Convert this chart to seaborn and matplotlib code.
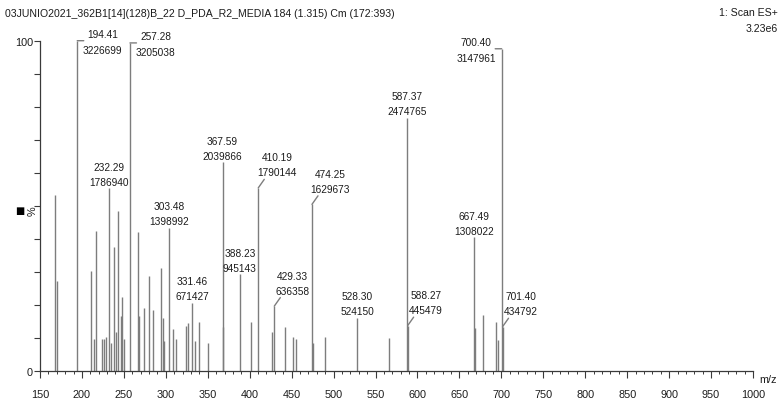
import matplotlib
matplotlib.use("Agg")
import matplotlib.pyplot as plt
from matplotlib import font_manager
from matplotlib.ticker import MultipleLocator, FixedLocator
import numpy as np
import pandas as pd
import seaborn as sns

# ---- spectrum data -------------------------------------------------------
title = "03JUNIO2021_362B1[14](128)B_22 D_PDA_R2_MEDIA 184 (1.315) Cm (172:393)"
scan_text = "1: Scan ES+"
base_peak_text = "3.23e6"

# annotated peaks: m/z and absolute intensity
label_mz = [194.41, 257.28, 700.40, 587.37, 367.59, 410.19, 232.29, 474.25,
            303.48, 667.49, 388.23, 331.46, 429.33, 528.30, 588.27, 701.40]
label_int = [3226699, 3205038, 3147961, 2474765, 2039866, 1790144, 1786940,
             1629673, 1398992, 1308022, 945143, 671427, 636358, 524150,
             445479, 434792]

# remaining (unannotated) peaks: m/z and relative intensity (%)
minor_mz = [167.9, 169.9, 211.1, 214.2, 217.0, 224.2, 226.1, 228.5, 234.4,
            238.8, 240.3, 242.4, 246.8, 248.3, 250.3, 267.0, 268.5, 273.6,
            280.1, 284.3, 294.7, 296.3, 297.5, 309.0, 312.2, 324.1, 326.5,
            334.8, 339.9, 350.3, 368.6, 401.8, 426.4, 442.2, 452.1, 455.0,
            475.9, 489.5, 565.6, 668.5, 678.2, 693.6, 696.0]
minor_pct = [53.4, 27.4, 30.4, 9.7, 42.5, 9.7, 9.9, 10.5, 8.7,
             37.5, 12.0, 48.6, 16.8, 22.6, 9.9, 42.2, 16.6, 19.0,
             28.9, 18.6, 31.3, 16.1, 9.3, 12.9, 9.7, 13.7, 14.6,
             9.2, 14.9, 8.7, 13.5, 15.0, 11.9, 13.5, 10.4, 9.7,
             8.6, 10.4, 10.2, 13.2, 17.1, 14.9, 9.5]

x_ticks = list(range(150, 1001, 50))
y_tick_labels = {0: "0", 100: "100"}

# how each annotation is attached to its peak
label_layout = ["bracket_r", "bracket_r", "bracket_l", "center", "center",
                "leader", "center", "leader", "center", "center", "center",
                "center", "leader", "center", "leader", "leader"]

# ---- build table -----------------------------------------------------------
max_int = max(label_int)
labeled = pd.DataFrame({"mz": label_mz, "intensity": label_int})
labeled["pct"] = labeled["intensity"] / max_int * 100
minor = pd.DataFrame({"mz": minor_mz, "pct": minor_pct})
peaks = pd.concat([minor[["mz", "pct"]], labeled[["mz", "pct"]]],
                  ignore_index=True).sort_values("mz")

# ---- style -----------------------------------------------------------------
sns.set_theme(style="ticks")
installed = {f.name for f in font_manager.fontManager.ttflist}
if "Liberation Sans Narrow" in installed:
    fam, k = "Liberation Sans Narrow", 1.0
else:
    fam, k = "Liberation Sans", 0.85
plt.rcParams["font.family"] = [fam, "DejaVu Sans"]

TXT = "#1c1c1c"
BAR = "#7d7d7d"
AX = "#3a3a3a"
LBL = 8.6 * k
TICK = 9.2 * k
HEAD = 8.85 * k

W, H = 784, 406
fig = plt.figure(figsize=(W / 100, H / 100), dpi=100)
x0, x1 = 40, 753
y_top, y_bot = 41.7, 372.3
ax = fig.add_axes([x0 / W, (H - y_bot) / H, (x1 - x0) / W, (y_bot - y_top) / H])

ax.vlines(peaks["mz"], 0, peaks["pct"], colors=BAR, linewidth=1.0)

ax.set_xlim(150, 1000)
ax.set_ylim(0, 100)
sns.despine(ax=ax)
for s in ("left", "bottom"):
    ax.spines[s].set_color(AX)
    ax.spines[s].set_linewidth(0.9)

ax.xaxis.set_major_locator(FixedLocator(x_ticks))
ax.xaxis.set_minor_locator(MultipleLocator(10))
ax.set_xticklabels([str(t) for t in x_ticks])
yt = np.arange(0, 101, 10)
ax.set_yticks(yt)
ax.set_yticklabels([y_tick_labels.get(int(v), "") for v in yt])
ax.tick_params(axis="x", which="major", direction="out", length=5, width=0.8,
               color=AX, labelsize=TICK, labelcolor=TXT, pad=7.5)
ax.tick_params(axis="x", which="minor", direction="out", length=2.5, width=0.7,
               color=AX)
ax.tick_params(axis="y", which="major", direction="out", length=4, width=0.8,
               color=AX, labelsize=TICK, labelcolor=TXT, pad=1)
ax.set_xlabel("")
ax.set_ylabel("")
ax.patch.set_alpha(0)

# ---- peak annotations ------------------------------------------------------
PX = 0.72  # points per pixel at 100 dpi


def put(txt, x, y, dx, dy):
    ax.annotate(txt, (x, y), xytext=(dx * PX, dy * PX), textcoords="offset points",
                ha="center", va="center", fontsize=LBL, color=TXT,
                annotation_clip=False)


def seg(x, y, dx, dy):
    ax.annotate("", (x, y), xytext=(dx * PX, dy * PX), textcoords="offset points",
                arrowprops=dict(arrowstyle="-", color=BAR, lw=1.0,
                                shrinkA=0, shrinkB=0),
                annotation_clip=False)


for (mz, inten, pct), how in zip(labeled[["mz", "intensity", "pct"]].values,
                                 label_layout):
    a, b = f"{mz:.2f}", f"{int(inten)}"
    if how == "center":
        put(a, mz, pct, 0, 21.5)
        put(b, mz, pct, 0, 6.5)
    elif how == "leader":
        seg(mz, pct, 6, 8.5)
        put(a, mz, pct, 18.5, 30.5)
        put(b, mz, pct, 18.5, 15.5)
    elif how == "bracket_r":
        seg(mz, pct, 6.5, 0)
        put(a, mz, pct, 25.5, 6.5)
        put(b, mz, pct, 25.5, -9)
    elif how == "bracket_l":
        seg(mz, pct, -6.5, 0)
        put(a, mz, pct, -25.5, 6.5)
        put(b, mz, pct, -25.5, -9)

# ---- header, axis captions -------------------------------------------------
fig.text(5 / W, 1 - 14 / H, title, ha="left", va="center", fontsize=HEAD,
         color=TXT)
fig.text(778 / W, 1 - 13 / H, scan_text, ha="right", va="center",
         fontsize=HEAD, color=TXT)
fig.text(778 / W, 1 - 29 / H, base_peak_text, ha="right", va="center",
         fontsize=HEAD, color=TXT)
fig.text(19.5 / W, 1 - 211 / H, "\u25A0", ha="center", va="center",
         fontsize=7, color="black", family=["DejaVu Sans"])
fig.text(32.5 / W, 1 - 211 / H, "%", ha="center", va="center", rotation=90,
         fontsize=TICK, color=TXT)
fig.text(768 / W, 1 - 380 / H, "m/z", ha="center", va="center",
         fontsize=TICK, color=TXT)

fig.savefig("out.png", dpi=100, facecolor="white")
